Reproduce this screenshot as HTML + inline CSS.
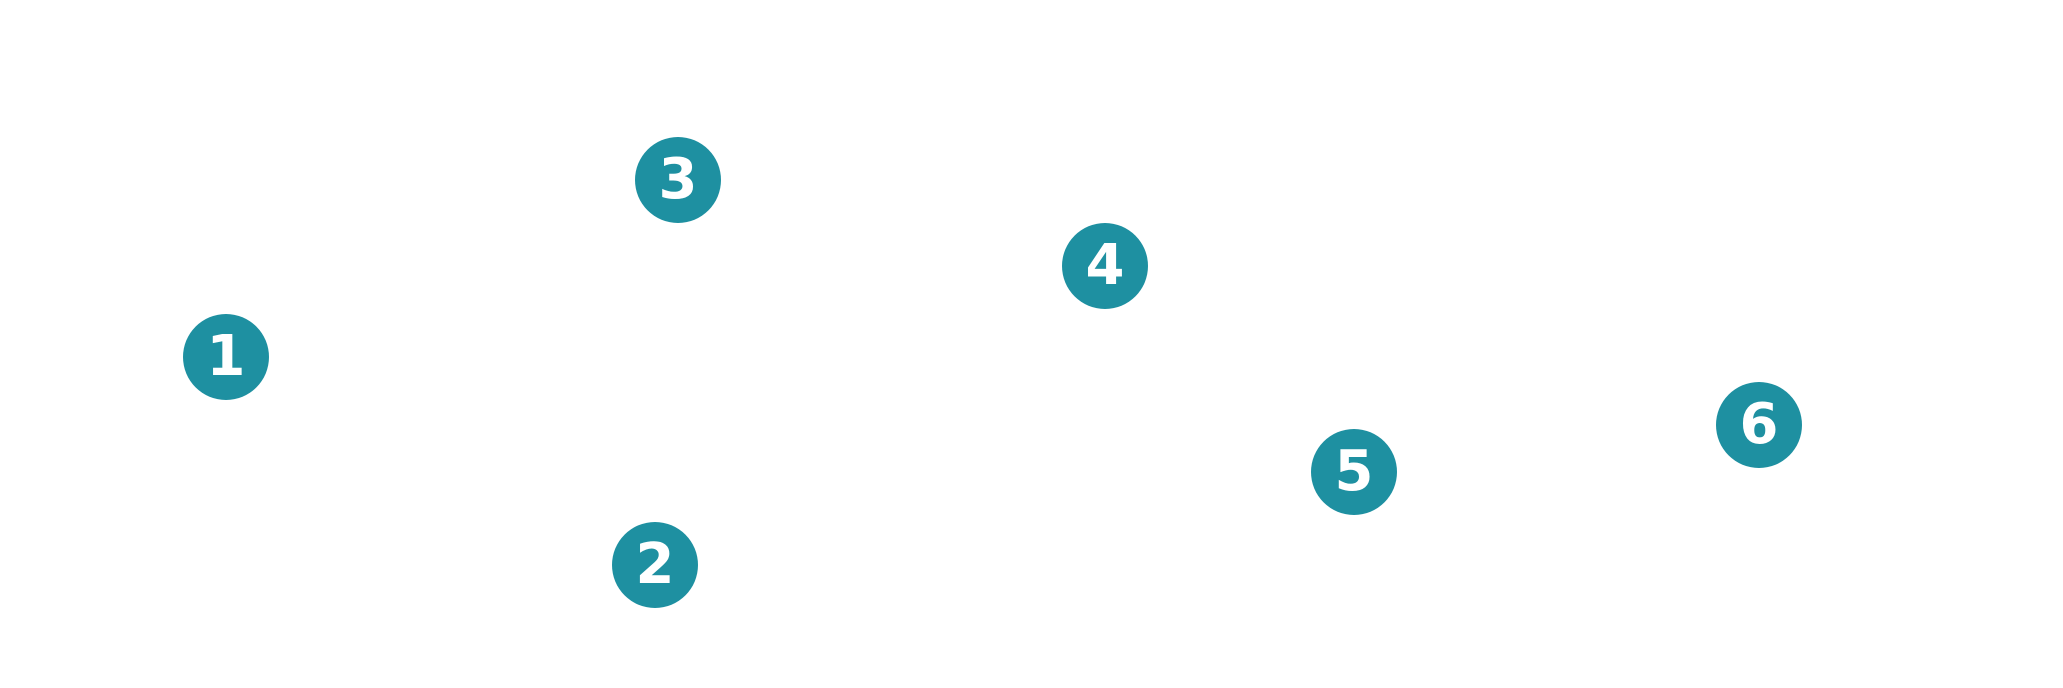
<!DOCTYPE html>
<html><head><style>
html,body{margin:0;padding:0;background:#fff;width:2063px;height:688px;overflow:hidden;position:relative}
.c{position:absolute;width:86px;height:86px;border-radius:50%;background:#1e90a1;color:#fff;font:bold 56px "DejaVu Sans","Liberation Sans",sans-serif;display:flex;align-items:center;justify-content:center;line-height:1}
</style></head><body>
<div class="c" style="left:183px;top:314px">1</div>
<div class="c" style="left:612px;top:522px">2</div>
<div class="c" style="left:635px;top:137px">3</div>
<div class="c" style="left:1062px;top:223px">4</div>
<div class="c" style="left:1311px;top:429px">5</div>
<div class="c" style="left:1716px;top:382px">6</div>
</body></html>
